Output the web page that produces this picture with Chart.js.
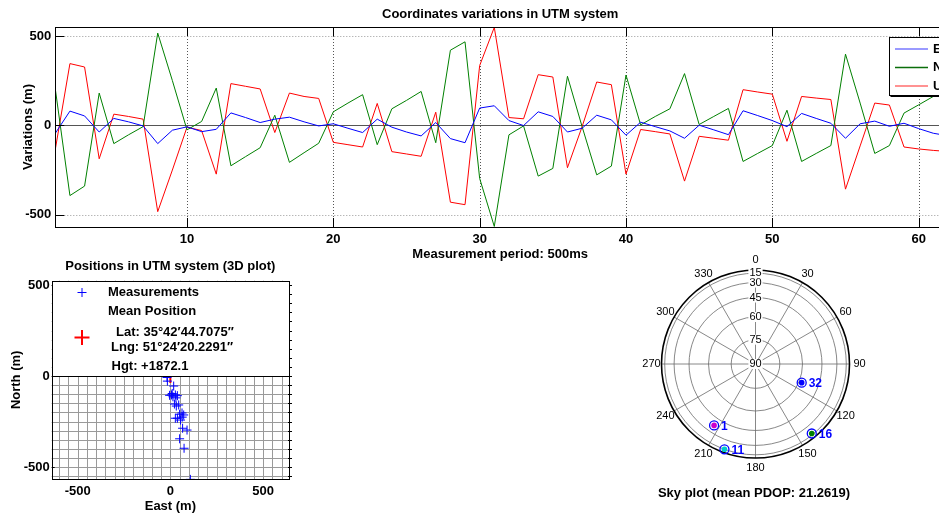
<!DOCTYPE html>
<html>
<head>
<meta charset="utf-8">
<script src="https://cdn.jsdelivr.net/npm/chart.js@4.4.1/dist/chart.umd.min.js"></script>
<style>
  html, body { margin: 0; padding: 0; background: #fff; }
  #wrap { position: relative; width: 939px; height: 514px; overflow: hidden; background: #fff; }
  canvas { position: absolute; }
  #varChart { left: 0; top: 0; }
  #posChart { left: 0; top: 255px; }
  #skyChart { left: 640px; top: 250px; }
</style>
</head>
<body>
<div id="wrap">
  <canvas id="varChart" width="1000" height="262"></canvas>
  <canvas id="posChart" width="300" height="259"></canvas>
  <canvas id="skyChart" width="299" height="264"></canvas>
</div>
<script>
// ---- data ----
const epochs = [1, 2, 3, 4, 5, 6, 7, 8, 9, 10, 11, 12, 13, 14, 15, 16, 17, 18, 19, 20,
  21, 22, 23, 24, 25, 26, 27, 28, 29, 30, 31, 32, 33, 34, 35, 36, 37, 38, 39, 40,
  41, 42, 43, 44, 45, 46, 47, 48, 49, 50, 51, 52, 53, 54, 55, 56, 57, 58, 59, 60, 61, 62];
const eastVar = [-45, 79, 52, -38, 38, 19, -4, -103, -28, -9, -36, -23, 69, 43, 15, 34, 45, 19, -4, 8,
  -17, -41, 34, -11, -38, -60, 15, -75, -98, 96, 109, 26, -2, 75, 49, -38, -17, 56, 30, -56,
  17, -8, -32, -73, 0, -26, -53, 81, 54, 26, -8, 66, 38, 11, -73, 8, 23, -6, 11, -19, -45, -59];
const northVar = [203, -394, -341, 180, -103, -54, -8, 516, 250, -26, 21, 208, -227, -176, -126, 56, -208, -154, -101, 75,
  124, 171, -109, 92, 139, 189, -98, 420, 467, -298, -567, -54, -4, -285, -242, 274, -8, -278, -229, 281,
  2, 49, 92, 289, 4, 49, 94, -203, -158, -114, 84, -203, -158, -114, 398, 124, -158, -114, 68, 114, 161, 185];
const upVar = [-135, 345, 326, -188, 62, 49, 34, -484, -251, -11, -30, -274, 233, 218, 203, -41, 180, 161, 150, -96,
  -109, -122, 122, -148, -161, -174, 73, -431, -445, 334, 548, 43, 36, 283, 270, -238, -8, 242, 227, -274,
  -24, -36, -49, -313, -62, -73, -84, 199, 186, 174, -90, 161, 152, 144, -358, -116, 124, 113, -122, -133, -141, -147];
const varNames = ['East', 'North', 'Up'];
const varColors = ['#0000ff', '#008000', '#ff0000'];
const varKeyColors = ['#7878ff', '#0a6e0a', '#ff6e6e'];
const varTicksX = [10, 20, 30, 40, 50, 60];
const varTicksY = [-500, 0, 500];

const measEast = [-18, -16, 18, -4, 6, 14, 27, 38, 22, 45, 32, 63, 50, 72, 27, 38, 55, 64, 66, 90, 50, 74, 108, 10, 30];
const measNorth = [-8, -28, -55, -106, -104, -114, -104, -108, -154, -159, -165, -203, -210, -214, -232, -232, -242, -226, -287, -297, -345, -397, -568, -96, -120];
const meanEast = [0];
const meanNorth = [0];
const posTicks = [-500, 0, 500];
const posMinorStep = 50;
const meanText = ['Lat: 35\u00b042\u203244.7075\u2032\u2032', 'Lng: 51\u00b024\u203220.2291\u2032\u2032', 'Hgt: +1872.1'];

const satPrn = [32, 16, 1, 11];
const satAz = [112, 141, 214, 200];
const satEl = [58, 18, 38, 15];
const satFill = ['#0000ff', '#008000', '#cc00cc', '#00cccc'];
const elevRings = [15, 30, 45, 60, 75];
const azSpokes = [0, 30, 60, 90, 120, 150, 180, 210, 240, 270, 300, 330];

// ---- common ----
const FONT = "'Liberation Sans', Arial, Helvetica, sans-serif";
Chart.defaults.font.family = FONT;
Chart.defaults.color = '#000';
Chart.defaults.animation = false;
const bold13 = { family: FONT, size: 13, weight: 'bold' };

function seg(ctx, x1, y1, x2, y2) {
  ctx.beginPath(); ctx.moveTo(x1, y1); ctx.lineTo(x2, y2); ctx.stroke();
}
function crisp(v) { return Math.round(v) + 0.5; }

// ---- top chart: coordinates variations ----
const varFrame = {
  id: 'varFrame',
  beforeDatasetsDraw(chart) {
    const { ctx, chartArea: a, scales: { x, y } } = chart;
    ctx.save();
    ctx.lineWidth = 1;
    ctx.setLineDash([1, 2]);
    ctx.strokeStyle = '#555';
    varTicksX.forEach(v => { const px = crisp(x.getPixelForValue(v)); seg(ctx, px, a.top, px, a.bottom); });
    ctx.strokeStyle = '#999';
    varTicksY.forEach(v => {
      if (v === 0) return;
      const py = crisp(y.getPixelForValue(v)); seg(ctx, a.left, py, a.right, py);
    });
    ctx.setLineDash([]);
    ctx.strokeStyle = '#555';
    const y0 = crisp(y.getPixelForValue(0));
    seg(ctx, a.left, y0, a.right, y0);
    ctx.restore();
  },
  afterDraw(chart) {
    const { ctx, chartArea: a, scales: { x, y } } = chart;
    ctx.save();
    ctx.strokeStyle = '#000';
    ctx.lineWidth = 1;
    ctx.strokeRect(crisp(a.left), crisp(a.top), Math.round(a.right - a.left), Math.round(a.bottom - a.top));
    varTicksX.forEach(v => {
      const px = crisp(x.getPixelForValue(v));
      seg(ctx, px, a.top, px, a.top + 9);
      seg(ctx, px, a.bottom, px, a.bottom - 9);
    });
    varTicksY.forEach(v => {
      const py = crisp(y.getPixelForValue(v));
      seg(ctx, a.left, py, a.left + 9, py);
    });
    // legend (partly outside the window, like the original)
    const lx = 889.5, ly = 37.5;
    ctx.fillStyle = '#fff';
    ctx.fillRect(lx, ly, 100, 58);
    ctx.strokeRect(lx, ly, 100, 58);
    seg(ctx, lx + 1, ly + 59, lx + 101, ly + 59);
    ctx.font = 'bold 13px ' + FONT;
    ctx.textBaseline = 'middle';
    ctx.textAlign = 'left';
    const rows = [49, 67.5, 86];
    ctx.lineWidth = 1.3;
    varNames.forEach((n, i) => {
      ctx.strokeStyle = varKeyColors[i];
      seg(ctx, 895, rows[i], 928, rows[i]);
      ctx.fillStyle = '#000';
      ctx.fillText(n, 933, rows[i]);
    });
    // titles
    ctx.fillStyle = '#000';
    ctx.textAlign = 'center';
    ctx.fillText('Coordinates variations in UTM system', (a.left + a.right) / 2, 14);
    ctx.fillText('Measurement period: 500ms', (a.left + a.right) / 2, 254);
    ctx.translate(28, (a.top + a.bottom) / 2);
    ctx.rotate(-Math.PI / 2);
    ctx.fillText('Variations (m)', 0, 0);
    ctx.restore();
  }
};

const varSets = [eastVar, northVar, upVar].map((vals, i) => ({
  label: varNames[i],
  data: epochs.map((e, k) => ({ x: e, y: vals[k] })),
  borderColor: varColors[i],
  borderWidth: 1,
  pointRadius: 0,
  tension: 0,
  fill: false
}));

new Chart(document.getElementById('varChart'), {
  type: 'line',
  data: { datasets: varSets },
  options: {
    responsive: false,
    layout: { padding: { left: 0, right: 55, top: 27, bottom: 0 } },
    plugins: { legend: { display: false }, tooltip: { enabled: false } },
    scales: {
      x: {
        type: 'linear', min: 1, max: 61.8,
        grid: { display: false, drawTicks: false },
        border: { display: false },
        afterBuildTicks: s => { s.ticks = varTicksX.map(v => ({ value: v })); },
        afterFit: s => { s.height = 35; },
        ticks: { font: bold13, padding: 5, maxRotation: 0 }
      },
      y: {
        min: -570, max: 550,
        grid: { display: false, drawTicks: false },
        border: { display: false },
        afterBuildTicks: s => { s.ticks = varTicksY.map(v => ({ value: v })); },
        afterFit: s => { s.width = 55.3; },
        ticks: { font: bold13, padding: 4 }
      }
    }
  },
  plugins: [varFrame]
});

// ---- bottom left: positions ----
const posFrame = {
  id: 'posFrame',
  beforeDatasetsDraw(chart) {
    const { ctx, chartArea: a, scales: { x, y } } = chart;
    ctx.save();
    ctx.lineWidth = 1;
    ctx.strokeStyle = '#9a9a9a';
    for (let v = -600; v <= 600; v += posMinorStep) {
      const px = crisp(x.getPixelForValue(v));
      if (px > a.left && px < a.right) seg(ctx, px, a.top, px, a.bottom);
    }
    for (let v = -550; v <= 500; v += posMinorStep) {
      const py = crisp(y.getPixelForValue(v));
      if (py > a.top && py < a.bottom) seg(ctx, a.left, py, a.right, py);
    }
    ctx.restore();
  },
  afterDraw(chart) {
    const { ctx, chartArea: a, scales: { x, y } } = chart;
    ctx.save();
    ctx.strokeStyle = '#000';
    ctx.lineWidth = 1;
    ctx.strokeRect(crisp(a.left), crisp(a.top), Math.round(a.right - a.left), Math.round(a.bottom - a.top));
    for (let v = -550; v <= 500; v += posMinorStep) {
      const py = crisp(y.getPixelForValue(v));
      seg(ctx, a.right - 1, py, a.right + 3, py);
    }
    posTicks.forEach(v => {
      const py = crisp(y.getPixelForValue(v));
      seg(ctx, a.left, py, a.left + 3, py);
    });
    // legend box over the upper half
    const y0 = y.getPixelForValue(0);
    ctx.fillStyle = '#fff';
    ctx.fillRect(crisp(a.left), crisp(a.top), 237, Math.round(y0 - a.top));
    ctx.strokeRect(crisp(a.left), crisp(a.top), 237, Math.round(y0 - a.top));
    ctx.strokeStyle = '#0000ff';
    seg(ctx, 77.5, 37.5, 86.5, 37.5);
    seg(ctx, 82, 33, 82, 42);
    ctx.strokeStyle = '#ff0000';
    ctx.lineWidth = 2;
    seg(ctx, 74.5, 82.5, 89.5, 82.5);
    seg(ctx, 82, 75, 82, 90);
    ctx.fillStyle = '#000';
    ctx.font = 'bold 13px ' + FONT;
    ctx.textBaseline = 'middle';
    ctx.textAlign = 'left';
    ctx.fillText('Measurements', 108, 37.5);
    ctx.fillText('Mean Position', 108, 56);
    ctx.fillText(meanText[0], 116, 77);
    ctx.fillText(meanText[1], 111, 92.5);
    ctx.fillText(meanText[2], 111.5, 111);
    ctx.textAlign = 'center';
    ctx.fillText('Positions in UTM system (3D plot)', (a.left + a.right) / 2, 11.5);
    ctx.fillText('East (m)', (a.left + a.right) / 2, 251.5);
    ctx.translate(16, (a.top + a.bottom) / 2);
    ctx.rotate(-Math.PI / 2);
    ctx.fillText('North (m)', 0, 0);
    ctx.restore();
  }
};

new Chart(document.getElementById('posChart'), {
  type: 'scatter',
  data: {
    datasets: [
      {
        label: 'Measurements',
        data: measEast.map((e, i) => ({ x: e, y: measNorth[i] })),
        pointStyle: 'cross', pointRadius: 4.5, borderColor: '#0000ff', borderWidth: 1
      },
      {
        label: 'Mean Position',
        data: meanEast.map((e, i) => ({ x: e, y: meanNorth[i] })),
        pointStyle: 'cross', pointRadius: 7, borderColor: '#ff0000', borderWidth: 2
      }
    ]
  },
  options: {
    responsive: false,
    layout: { padding: { left: 0, right: 11, top: 25.7, bottom: 0 } },
    plugins: { legend: { display: false }, tooltip: { enabled: false } },
    scales: {
      x: {
        min: -640, max: 640,
        grid: { display: false, drawTicks: false },
        border: { display: false },
        afterBuildTicks: s => { s.ticks = posTicks.map(v => ({ value: v })); },
        afterFit: s => { s.height = 35; },
        ticks: { font: bold13, padding: 5, maxRotation: 0 }
      },
      y: {
        min: -566, max: 524,
        grid: { display: false, drawTicks: false },
        border: { display: false },
        afterBuildTicks: s => { s.ticks = posTicks.map(v => ({ value: v })); },
        afterFit: s => { s.width = 51.7; },
        ticks: { font: bold13, padding: 2 }
      }
    }
  },
  plugins: [posFrame]
});

// ---- bottom right: sky plot ----
const skyGrid = {
  id: 'skyGrid',
  beforeDatasetsDraw(chart) {
    const { ctx, scales: { x, y } } = chart;
    const cx = x.getPixelForValue(0), cy = y.getPixelForValue(0);
    const R = x.getPixelForValue(1) - cx;
    ctx.save();
    ctx.strokeStyle = '#6a6a6a';
    ctx.lineWidth = 0.8;
    elevRings.forEach(el => {
      ctx.beginPath(); ctx.arc(cx, cy, R * Math.cos(el * Math.PI / 180), 0, 2 * Math.PI); ctx.stroke();
    });
    azSpokes.forEach(az => {
      const t = az * Math.PI / 180;
      seg(ctx, cx, cy, cx + R * Math.sin(t), cy - R * Math.cos(t));
    });
    ctx.strokeStyle = '#000';
    ctx.lineWidth = 1.6;
    ctx.beginPath(); ctx.arc(cx, cy, R, 0, 2 * Math.PI); ctx.stroke();
    ctx.font = '11px ' + FONT;
    ctx.textAlign = 'center';
    ctx.textBaseline = 'middle';
    ctx.fillStyle = '#000';
    azSpokes.forEach(az => {
      const t = az * Math.PI / 180;
      ctx.fillText(String(az), cx + 104 * Math.sin(t), cy - 104 * Math.cos(t));
    });
    [90].concat(elevRings.slice().reverse()).forEach(el => {
      const py = cy - R * Math.cos(el * Math.PI / 180);
      const s = String(el);
      const w = ctx.measureText(s).width;
      ctx.fillStyle = '#fff';
      ctx.fillRect(cx - w / 2 - 1, py - 5, w + 2, 10);
      ctx.fillStyle = '#000';
      ctx.fillText(s, cx, py);
    });
    ctx.restore();
  },
  afterDraw(chart) {
    const { ctx, scales: { x, y } } = chart;
    ctx.save();
    ctx.font = 'bold 12px ' + FONT;
    ctx.textAlign = 'left';
    ctx.textBaseline = 'middle';
    ctx.fillStyle = '#0000ff';
    skyPoints.forEach((p, i) => {
      ctx.fillText(String(satPrn[i]), x.getPixelForValue(p.x) + 7, y.getPixelForValue(p.y) + 1);
    });
    ctx.fillStyle = '#000';
    ctx.font = 'bold 13px ' + FONT;
    ctx.textAlign = 'center';
    ctx.fillText('Sky plot (mean PDOP: 21.2619)', 114, 243);
    ctx.restore();
  }
};

const skyPoints = satAz.map((az, i) => {
  const r = Math.cos(satEl[i] * Math.PI / 180);
  const t = az * Math.PI / 180;
  return { x: r * Math.sin(t), y: r * Math.cos(t) };
});

new Chart(document.getElementById('skyChart'), {
  type: 'scatter',
  data: {
    datasets: [
      { data: skyPoints, pointRadius: 4.5, pointBackgroundColor: 'rgba(0,0,0,0)', pointBorderColor: '#0000ff', pointBorderWidth: 1.3 },
      { data: skyPoints, pointRadius: 2.8, pointBackgroundColor: satFill, pointBorderWidth: 0 }
    ]
  },
  options: {
    responsive: false,
    layout: { padding: { left: 21.5, right: 89.5, top: 20, bottom: 56 } },
    plugins: { legend: { display: false }, tooltip: { enabled: false } },
    scales: {
      x: { min: -1, max: 1, display: false },
      y: { min: -1, max: 1, display: false }
    }
  },
  plugins: [skyGrid]
});
</script>
</body>
</html>
